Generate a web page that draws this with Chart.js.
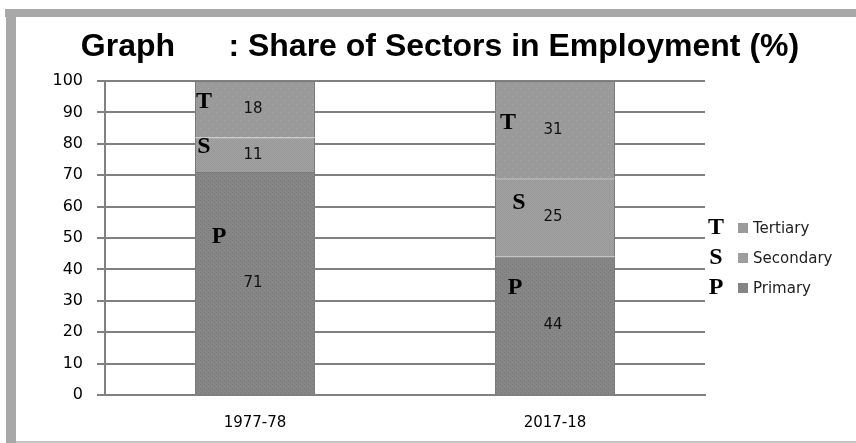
<!DOCTYPE html>
<html>
<head>
<meta charset="utf-8">
<script src="https://cdn.jsdelivr.net/npm/chart.js@4.4.0/dist/chart.umd.min.js"></script>
<style>
  html, body { margin: 0; padding: 0; background: #fff; }
  #wrap { position: relative; width: 856px; height: 443px; overflow: hidden; }
  .band { position: absolute; background: #a8a8a8; }
  #bandTop { left: 5px; top: 9px; width: 851px; height: 8px; }
  #bandLeft { left: 6px; top: 9px; width: 10px; height: 434px; }
  #bandBottom { left: 16px; top: 441px; width: 840px; height: 2px; background: #c4c4c4; }
  canvas { position: absolute; left: 0; top: 0; }
</style>
</head>
<body>
<div id="wrap">
  <div class="band" id="bandTop"></div>
  <div class="band" id="bandLeft"></div>
  <div class="band" id="bandBottom"></div>
  <canvas id="chart-bars" width="856" height="443"></canvas>
</div>
<script>
// data
var categories = ['1977-78', '2017-18'];
var seriesNames = ['Primary', 'Secondary', 'Tertiary'];
var sectorLetters = ['P', 'S', 'T'];
var primary = [71, 44];
var secondary = [11, 25];
var tertiary = [18, 31];
var yTicks = [0, 10, 20, 30, 40, 50, 60, 70, 80, 90, 100];

// where the big serif letters sit inside the bars (dataset, bar, px from bar left, value on y axis)
var letterSpots = [
    {ds: 2, i: 0, dx: 9, at: 93.3},
    {ds: 1, i: 0, dx: 9, at: 79},
    {ds: 0, i: 0, dx: 24, at: 50.5},
    {ds: 2, i: 1, dx: 13, at: 86.7},
    {ds: 1, i: 1, dx: 24, at: 61.3},
    {ds: 0, i: 1, dx: 20, at: 34}
];

function dotPattern(base, dot, step) {
    var c = document.createElement('canvas');
    c.width = step; c.height = step;
    var g = c.getContext('2d');
    g.fillStyle = base;
    g.fillRect(0, 0, step, step);
    g.fillStyle = dot;
    g.fillRect(0, 0, 1, 1);
    g.fillRect(step / 2, step / 2, 1, 1);
    return g.createPattern(c, 'repeat');
}

var fills = [
    dotPattern('#868686', '#797979', 4),
    dotPattern('#a3a3a3', '#979797', 2),
    dotPattern('#9a9a9a', '#a8a8a8', 8)
];

var labelPlugin = {
    id: 'sectorLabels',
    afterDatasetsDraw: function (chart) {
        var ctx = chart.ctx;
        var y = chart.scales.y;
        ctx.save();
        // values in the middle of each segment
        ctx.font = '15px "DejaVu Sans"';
        ctx.fillStyle = '#111';
        ctx.textAlign = 'center';
        ctx.textBaseline = 'middle';
        chart.data.datasets.forEach(function (ds, d) {
            chart.getDatasetMeta(d).data.forEach(function (bar, i) {
                ctx.fillText(String(ds.data[i]), bar.x - 2, (bar.y + bar.base) / 2);
            });
        });
        // P / S / T letters
        ctx.font = 'bold 24px "Liberation Serif"';
        ctx.fillStyle = '#000';
        letterSpots.forEach(function (s) {
            var bar = chart.getDatasetMeta(s.ds).data[s.i];
            var left = bar.x - bar.width / 2;
            ctx.fillText(sectorLetters[s.ds], left + s.dx, y.getPixelForValue(s.at));
        });
        // legend on the right, Tertiary first
        var area = chart.chartArea;
        var boxX = area.right + 33;
        var rowY = (area.top + area.bottom) / 2 - 10;
        for (var k = seriesNames.length - 1; k >= 0; k--) {
            ctx.font = 'bold 24px "Liberation Serif"';
            ctx.fillStyle = '#000';
            ctx.textAlign = 'center';
            ctx.fillText(sectorLetters[k], area.right + 11, rowY);
            ctx.fillStyle = fills[k];
            ctx.fillRect(boxX, rowY - 5, 10, 10);
            ctx.font = '15px "DejaVu Sans"';
            ctx.fillStyle = '#222';
            ctx.textAlign = 'left';
            ctx.fillText(seriesNames[k], boxX + 15, rowY + 1);
            rowY += 30;
        }
        ctx.restore();
    }
};

var ordersChart = new Chart(document.getElementById('chart-bars'), {
    type: 'bar',
    data: {
        labels: categories,
        datasets: [
            {label: seriesNames[0], data: primary, backgroundColor: fills[0]},
            {label: seriesNames[1], data: secondary, backgroundColor: fills[1]},
            {label: seriesNames[2], data: tertiary, backgroundColor: fills[2]}
        ]
    },
    options: {
        responsive: false,
        animation: false,
        layout: {padding: {left: 24, right: 0, top: 0, bottom: 0}},
        datasets: {
            bar: {
                categoryPercentage: 1,
                barPercentage: 0.4,
                borderColor: '#7a7a7a',
                borderWidth: 1
            }
        },
        plugins: {
            legend: {display: false},
            tooltip: {enabled: false},
            title: {
                display: true,
                text: 'Graph      : Share of Sectors in Employment (%)',
                color: '#000',
                font: {family: '"Liberation Sans", Arial', size: 32, weight: 'bold'},
                padding: {top: 28, bottom: 14.6}
            }
        },
        scales: {
            x: {
                stacked: true,
                grid: {display: false},
                border: {display: true, color: '#808080', width: 2},
                ticks: {color: '#000', font: {family: '"DejaVu Sans"', size: 15, lineHeight: 1}, padding: 12.5}
            },
            y: {
                stacked: true,
                min: 0,
                max: 100,
                afterBuildTicks: function (axis) {
                    axis.ticks = yTicks.map(function (v) { return {value: v}; });
                },
                afterFit: function (axis) { axis.width = 81; },
                grid: {color: '#808080', lineWidth: 2, tickLength: 8},
                border: {display: true, color: '#808080', width: 2},
                ticks: {color: '#000', font: {family: '"DejaVu Sans"', size: 16}, padding: 14}
            },
            // empty right-hand strip that holds the legend
            legendSpace: {
                type: 'linear',
                position: 'right',
                grid: {display: false},
                border: {display: false},
                ticks: {display: false},
                afterFit: function (axis) { axis.width = 151; }
            }
        }
    },
    plugins: [labelPlugin]
});
</script>
</body>
</html>
